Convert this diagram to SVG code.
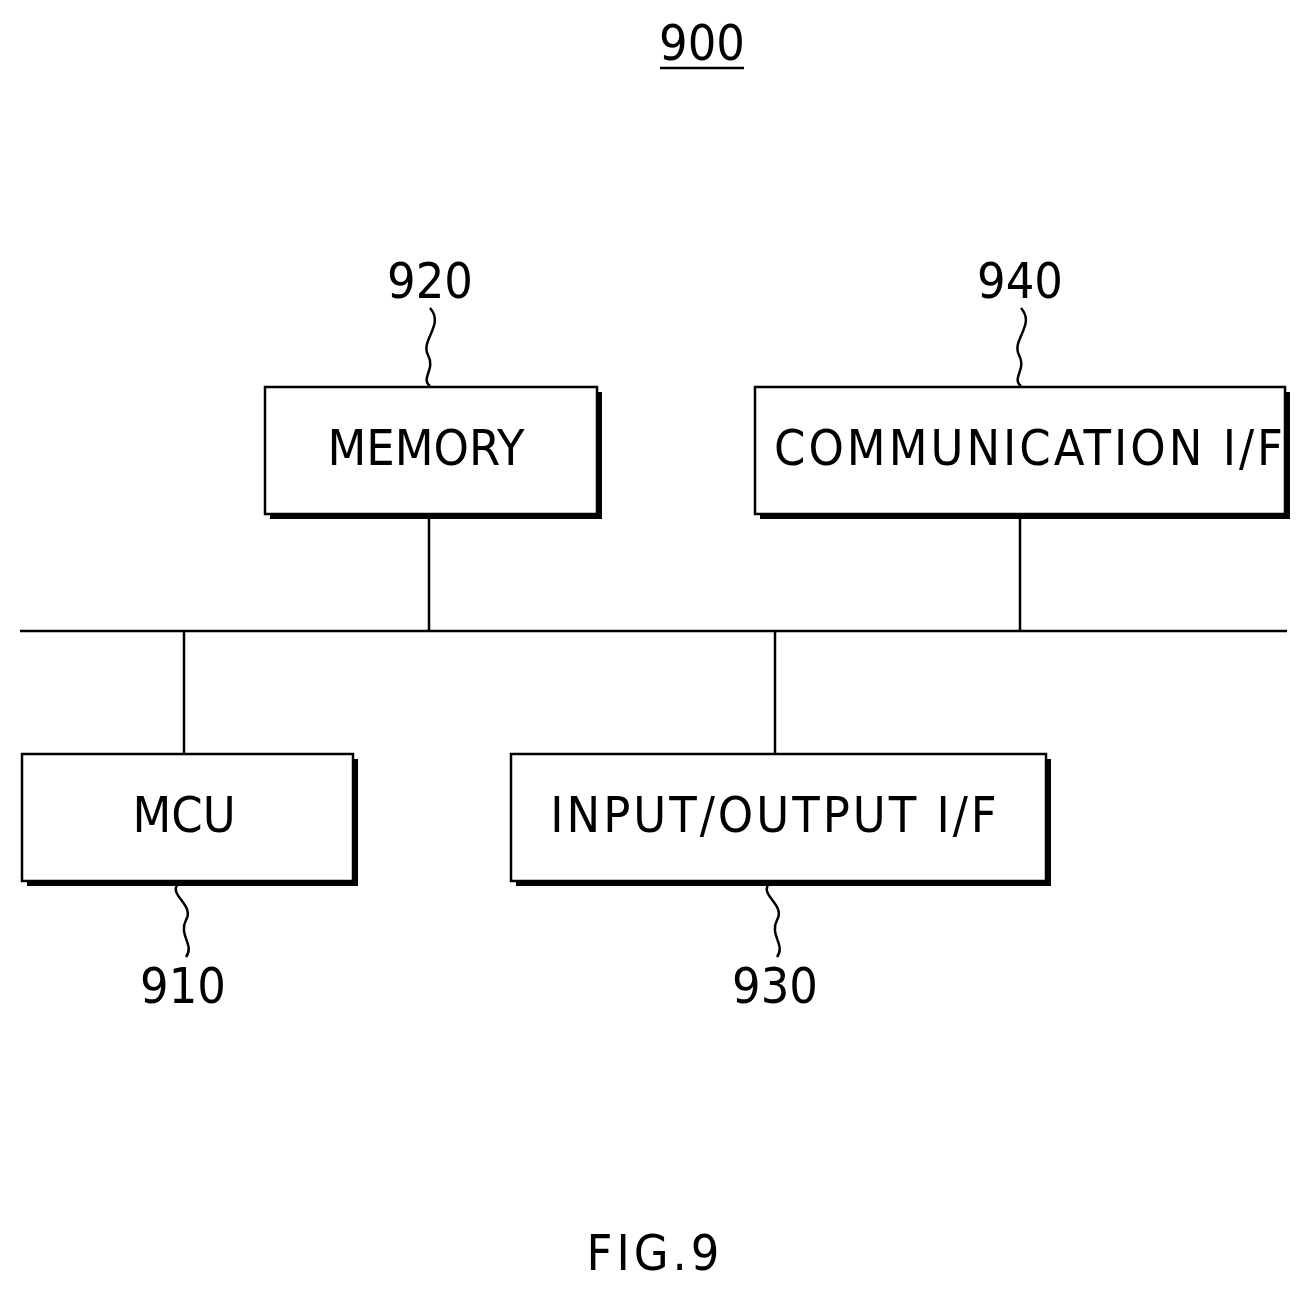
<svg xmlns="http://www.w3.org/2000/svg" width="1315" height="1293" viewBox="0 0 1315 1293">
<style>
.box{fill:#fff;stroke:#000;stroke-width:2.5}
.sh{fill:#000}
.t{font-family:"DejaVu Sans Condensed","Liberation Sans",sans-serif;font-size:50px;fill:#000;text-anchor:middle}
.ln{stroke:#000;stroke-width:2.5;fill:none}
</style>
<rect width="1315" height="1293" fill="#fff"/>
<text class="t" x="702" y="60">900</text>
<line class="ln" x1="660" y1="68" x2="744" y2="68"/>
<g id="connectors">
<line class="ln" x1="20" y1="631" x2="1287" y2="631"/>
<line class="ln" x1="429" y1="517" x2="429" y2="631"/>
<line class="ln" x1="1020" y1="517" x2="1020" y2="631"/>
<line class="ln" x1="184" y1="631" x2="184" y2="754"/>
<line class="ln" x1="775" y1="631" x2="775" y2="754"/>
<path class="ln" d="M430,308 C445,325 420,340 428,355 C436,370 420,378 430,386"/>
<path class="ln" d="M1021,308 C1036,325 1011,340 1019,355 C1027,370 1011,378 1021,386"/>
<path class="ln" d="M178,884 C168,895 195,905 186,920 C178,935 195,945 186,957"/>
<path class="ln" d="M769,884 C759,895 786,905 777,920 C769,935 786,945 777,957"/>
</g>
<g id="n920">
<rect class="sh" x="270" y="392" width="332" height="127"/>
<rect class="box" x="265" y="387" width="332" height="127"/>
<text class="t" x="426" y="465">MEMORY</text>
<text class="t" x="430" y="298">920</text>
</g>
<g id="n940">
<rect class="sh" x="760" y="392" width="530" height="127"/>
<rect class="box" x="755" y="387" width="530" height="127"/>
<text class="t" x="1030" y="465" letter-spacing="3">COMMUNICATION I/F</text>
<text class="t" x="1020" y="298">940</text>
</g>
<g id="n910">
<rect class="sh" x="27" y="759" width="331" height="127"/>
<rect class="box" x="22" y="754" width="331" height="127"/>
<text class="t" x="184" y="832">MCU</text>
<text class="t" x="183" y="1003">910</text>
</g>
<g id="n930">
<rect class="sh" x="516" y="759" width="535" height="127"/>
<rect class="box" x="511" y="754" width="535" height="127"/>
<text class="t" x="775" y="832" letter-spacing="3">INPUT/OUTPUT I/F</text>
<text class="t" x="775" y="1003">930</text>
</g>
<text class="t" x="655" y="1270" letter-spacing="4">FIG.9</text>
</svg>
